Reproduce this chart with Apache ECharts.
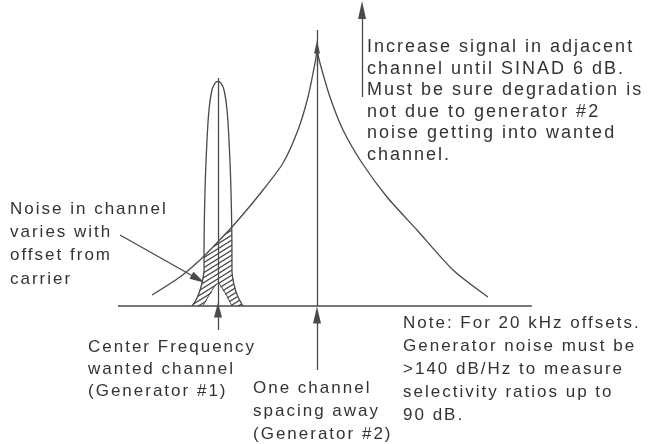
<!DOCTYPE html>
<html><head><meta charset="utf-8">
<script src="https://cdn.jsdelivr.net/npm/echarts@6/dist/echarts.min.js"></script>
<style>
html,body{margin:0;padding:0;background:#fff;}
#c{width:654px;height:444px;}
</style></head><body><div id="c"></div>
<script>
// x: frequency offset in channel spacings (0 = wanted channel, 1 = adjacent channel)
// y: relative level above the baseline (arbitrary dB-like units)
const baseline = [[-1.01, 0], [3.17, 0]];
const wantedFilter = [[-0.263,0],[-0.212,2.67],[-0.172,6.33],[-0.141,12],[-0.141,17.67],[-0.131,38.67],[-0.111,55.33],[-0.091,65.33],[-0.061,72],[-0.030,74.33],[0,74.83],[0.030,74.33],[0.061,72],[0.091,65.33],[0.111,55.33],[0.131,38.67],[0.141,17.67],[0.141,12],[0.162,7],[0.202,3],[0.253,0]];
const adjacentLeft = [[-0.667,3.67],[-0.384,9.67],[-0.182,15.33],[-0.051,19.67],[0.141,26.33],[0.273,31.33],[0.455,38.67],[0.657,47.67],[0.808,58.67],[0.909,69.67],[0.980,81],[1,85.33]];
const adjacentRight = [[1,85.33],[1.030,81],[1.131,69.67],[1.263,58.67],[1.455,47.67],[1.707,36.33],[2.010,25.33],[2.374,12],[2.727,3]];
const noiseRegion = [[-0.263,0],[-0.212,2.67],[-0.172,6.33],[-0.141,12],[-0.141,16.7],[-0.051,19.67],[0.141,26.33],[0.141,17.67],[0.141,12],[0.162,7],[0.202,3],[0.253,0],[0.141,0],[0,7.67],[-0.152,0]];
const innerSkirts = [[-0.152,0],[0,7.67],[0.141,0]];
const channelOffsets = [0, 1];

const textLeft = ['Noise in channel','varies with','offset from','carrier'];
const textTop = ['Increase signal in adjacent','channel until SINAD 6 dB.','Must be sure degradation is','not due to generator #2','noise getting into wanted','channel.'];
const textWanted = ['Center Frequency','wanted channel','(Generator #1)'];
const textAdjacent = ['One channel','spacing away','(Generator #2)'];
const textNote = ['Note: For 20 kHz offsets.','Generator noise must be','>140 dB/Hz to measure','selectivity ratios up to','90 dB.'];

const INK = '#4a4a4a';
const TXT = '#333';

// hatch pattern
const hc = document.createElement('canvas');
hc.width = 8; hc.height = 5;
const hx = hc.getContext('2d');
hx.strokeStyle = '#444'; hx.lineWidth = 1.2;
hx.beginPath();
hx.moveTo(-8, 10); hx.lineTo(8, 0);
hx.moveTo(0, 5); hx.lineTo(8, 0);
hx.moveTo(0, 10); hx.lineTo(16, 0);
hx.moveTo(-8, 5); hx.lineTo(8, -5);
hx.stroke();

function block(lines, x, yFirst, lh, size) {
  return {
    type: 'text', x: x, y: yFirst - lh / 2, silent: true,
    style: {
      text: lines.join('\n'), fill: TXT, lineHeight: lh,
      font: size + 'px "Liberation Sans", Arial, sans-serif',
      verticalAlign: 'top', align: 'left'
    }
  };
}

function vArrow(x, y0, y1, size) {
  return [{ coord: [x, y0], symbol: 'none' }, { coord: [x, y1], symbol: 'triangle', symbolSize: size }];
}

const lineStyle = { color: INK, width: 1.3 };
const option = {
  animation: false,
  backgroundColor: '#fff',
  grid: { left: 20, right: 40, top: 6, bottom: 0 },
  xAxis: { type: 'value', min: -2, max: 4, show: false },
  yAxis: { type: 'value', min: -46, max: 100, show: false },
  series: [
    {
      type: 'custom', coordinateSystem: 'cartesian2d', silent: true,
      data: noiseRegion,
      renderItem: function (params, api) {
        if (params.dataIndex !== 0) return null;
        return {
          type: 'polygon',
          shape: { points: noiseRegion.map(function (p) { return api.coord(p); }) },
          style: { fill: { image: hc, repeat: 'repeat' }, stroke: null }
        };
      }
    },
    { type: 'line', data: baseline, symbol: 'none', lineStyle: lineStyle, silent: true,
      markLine: {
        silent: true, label: { show: false }, lineStyle: { color: INK, width: 1.3, type: 'solid' },
        symbolSize: [8, 14],
        data: [
          vArrow(channelOffsets[0], -8, -1.33, [8, 15]),
          vArrow(channelOffsets[1], -21.33, -3, [8, 17]),
          [{ coord: [channelOffsets[0], 0], symbol: 'none' }, { coord: [channelOffsets[0], 76], symbol: 'none' }],
          [{ coord: [channelOffsets[1], 0], symbol: 'none' }, { coord: [channelOffsets[1], 92], symbol: 'none' }],
          vArrow(channelOffsets[1], 80, 86.33, [6, 13]),
          vArrow(1.455, 69.67, 98.67, [8, 18]),
          [{ coord: [-0.99, 23.67], symbol: 'none' }, { coord: [-0.202, 9], symbol: 'triangle', symbolSize: [8, 15] }]
        ]
      }
    },
    { type: 'line', data: adjacentLeft, symbol: 'none', smooth: 0.25, lineStyle: lineStyle, silent: true },
    { type: 'line', data: adjacentRight, symbol: 'none', smooth: 0.25, lineStyle: lineStyle, silent: true },
    { type: 'line', data: wantedFilter, symbol: 'none', smooth: 0.3, lineStyle: lineStyle, silent: true },
    { type: 'line', data: innerSkirts, symbol: 'none', smooth: 0.2, lineStyle: { color: INK, width: 1 }, silent: true }
  ],
  graphic: [
    block(textLeft, 10, 209, 23.3, 17),
    block(textTop, 367, 47, 21.6, 18),
    block(textWanted, 88, 347, 22, 17),
    block(textAdjacent, 253, 388, 23, 17),
    block(textNote, 403, 323, 23, 17)
  ]
};

const chart = echarts.init(document.getElementById('c'), null, { renderer: 'canvas' });
chart.setOption(option);
try {
  const zr = chart.getZr();
  const layers = zr.painter.getLayers ? zr.painter.getLayers() : {};
  Object.keys(layers).forEach(function (k) { if (layers[k].ctx) layers[k].ctx.letterSpacing = '2px'; });
  chart.setOption(option, true);
  if (zr.painter.refresh) zr.painter.refresh(true);
} catch (e) {}
</script></body></html>
